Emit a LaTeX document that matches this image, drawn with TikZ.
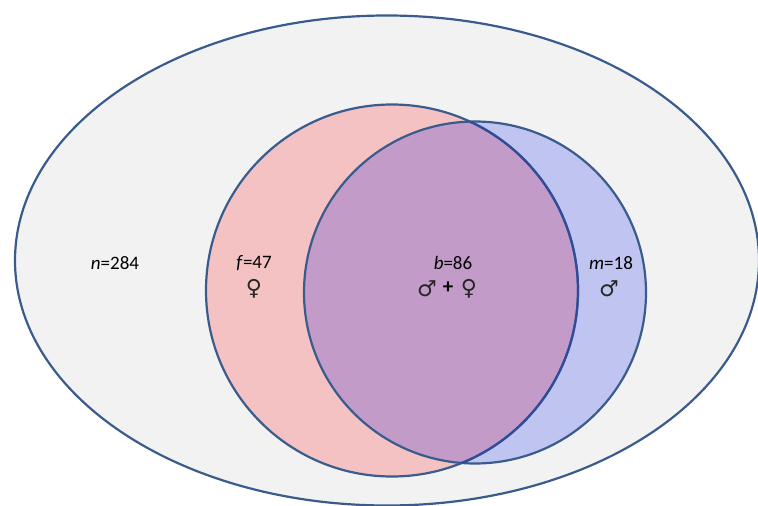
\documentclass[tikz,border=0pt]{standalone}
\usepackage{fontspec}
\setmainfont{Carlito}
\newfontfamily\symfont{DejaVu Sans}
\definecolor{edge}{HTML}{3A5C8C}
\definecolor{innerEdge}{HTML}{2F4C9A}
\definecolor{bg}{HTML}{F2F2F2}
\definecolor{pinkfill}{HTML}{F4C2C2}
\definecolor{bluefill}{HTML}{C0C4F0}
\definecolor{mixfill}{HTML}{C39BC9}
\tikzset{
  outline/.style={draw=edge, line width=2.2pt},
  lbl/.style={font=\fontsize{19}{21}\selectfont, inner sep=0pt},
  sym/.style={font=\symfont\fontsize{22}{24}\selectfont, inner sep=0pt, text=black!85}
}
\begin{document}
\begin{tikzpicture}[x=1pt,y=-1pt]
\useasboundingbox (0,0) rectangle (758,506);
\fill[white] (0,0) rectangle (758,506);
% population ellipse
\path[fill=bg, outline] (387,260.5) ellipse [x radius=372, y radius=245];
% sets
\fill[pinkfill] (392,290.5) circle [radius=186];
\fill[bluefill] (475,292.5) circle [radius=171];
\begin{scope}
  \clip (392,290.5) circle [radius=186];
  \fill[mixfill] (475,292.5) circle [radius=171];
\end{scope}
\draw[outline] (392,290.5) circle [radius=186];
\draw[outline] (475,292.5) circle [radius=171];
\begin{scope}
  \clip (475,292.5) circle [radius=171];
  \draw[draw=innerEdge, line width=2.2pt] (392,290.5) circle [radius=186];
\end{scope}
% labels
\node[lbl] (n) at (115,263) {\textit{n}=284};
\node[lbl] (f) at (254,263) {\textit{f}=47};
\node[sym] (fs) at (254,289) {♀};
\node[lbl] (b) at (453,263) {\textit{b}=86};
\node[sym] (bm) at (427,289) {♂};
\node[lbl, font=\bfseries\fontsize{21}{21}\selectfont] (plus) at (448,288) {+};
\node[sym] (bf) at (469,289) {♀};
\node[lbl] (m) at (611,263) {\textit{m}=18};
\node[sym] (ms) at (609,289) {♂};
\end{tikzpicture}
\end{document}
